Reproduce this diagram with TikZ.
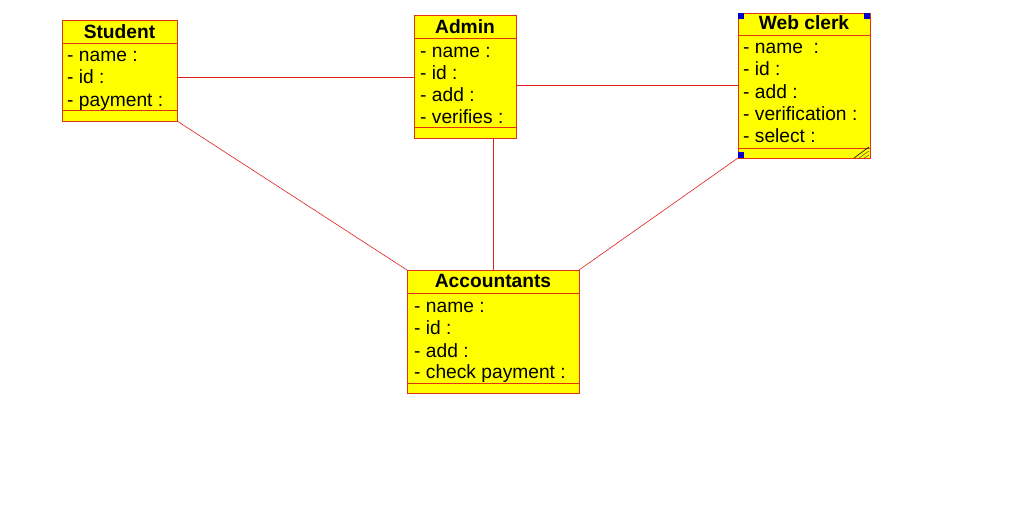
\documentclass[tikz,border=0pt]{standalone}
\usepackage{fontspec}
\setmainfont{Liberation Sans}
\definecolor{umlred}{RGB}{225,50,20}
\definecolor{linered}{RGB}{225,30,30}
\definecolor{umlyellow}{RGB}{255,255,0}
\definecolor{handle}{RGB}{0,0,200}
\begin{document}
\begin{tikzpicture}[x=1pt,y=-1pt,
  classbox/.style={draw=umlred,fill=umlyellow,line width=1pt,rectangle,anchor=north west,inner sep=0pt,outer sep=0pt},
  divider/.style={draw=umlred,line width=1pt},
  assoc/.style={draw=linered,line width=0.6pt},
  attr/.style={anchor=base west,inner sep=0pt,font=\fontsize{19.2}{21}\selectfont},
  ttl/.style={anchor=base,inner sep=0pt,font=\bfseries\fontsize{19.2}{21}\selectfont},
  hnd/.style={fill=handle,draw=none}]
\useasboundingbox (0,0) rectangle (1021,506);
\fill[white] (0,0) rectangle (1021,506);

% Student
\node[classbox,minimum width=115pt,minimum height=101pt] (stu) at (62,20) {};
\draw[divider] (62,43) -- (177,43);
\draw[divider] (62,110) -- (177,110);
\node[ttl] (stuT) at (119.5,38) {Student};
\node[attr] (stu1) at (67,61) {- name :};
\node[attr] (stu2) at (67,83.5) {- id :};
\node[attr] (stu3) at (67,106) {- payment :};

% Admin
\node[classbox,minimum width=102pt,minimum height=123pt] (adm) at (414,15) {};
\draw[divider] (414,38) -- (516,38);
\draw[divider] (414,127) -- (516,127);
\node[ttl] (admT) at (465,33) {Admin};
\node[attr] (adm1) at (420,57) {- name :};
\node[attr] (adm2) at (420,79) {- id :};
\node[attr] (adm3) at (420,101) {- add :};
\node[attr] (adm4) at (420,123) {- verifies :};

% Web clerk
\node[classbox,minimum width=132pt,minimum height=145pt] (web) at (738,13) {};
\draw[divider] (738,35) -- (870,35);
\draw[divider] (738,148) -- (870,148);
\node[ttl] (webT) at (804,30) {Web clerk};
\node[attr] (web1) at (743,53) {- name \ :};
\node[attr] (web2) at (743,75.5) {- id :};
\node[attr] (web3) at (743,98) {- add :};
\node[attr] (web4) at (743,120) {- verification :};
\node[attr] (web5) at (743,142.5) {- select :};
\draw[black,line width=0.6pt] (854,158) -- (869,147);
\draw[black!70!yellow,line width=0.6pt] (859,158) -- (869,151);
\draw[black!70!yellow,line width=0.6pt] (864,158) -- (869,155);
\fill[hnd] (738,13) rectangle (744,19);
\fill[hnd] (864,13) rectangle (870,19);
\fill[hnd] (738,152) rectangle (744,158);

% Accountants
\node[classbox,minimum width=172pt,minimum height=123pt] (acc) at (407,270) {};
\draw[divider] (407,293) -- (579,293);
\draw[divider] (407,383) -- (579,383);
\node[ttl] (accT) at (493,287) {Accountants};
\node[attr] (acc1) at (414,312) {- name :};
\node[attr] (acc2) at (414,334.5) {- id :};
\node[attr] (acc3) at (414,357) {- add :};
\node[attr] (acc4) at (414,378.5) {- check payment :};

% connector end points
\coordinate (sA) at (177,77);
\coordinate (aS) at (414,77);
\coordinate (aW) at (516,85);
\coordinate (wA) at (738,85);
\coordinate (aC) at (493,138);
\coordinate (cA) at (493,270);

\draw[assoc] (sA) -- (aS);
\draw[assoc] (aW) -- (wA);
\draw[assoc] (stu.south east) -- (acc.north west);
\draw[assoc] (aC) -- (cA);
\draw[assoc] (web.south west) -- (acc.north east);
\end{tikzpicture}
\end{document}
